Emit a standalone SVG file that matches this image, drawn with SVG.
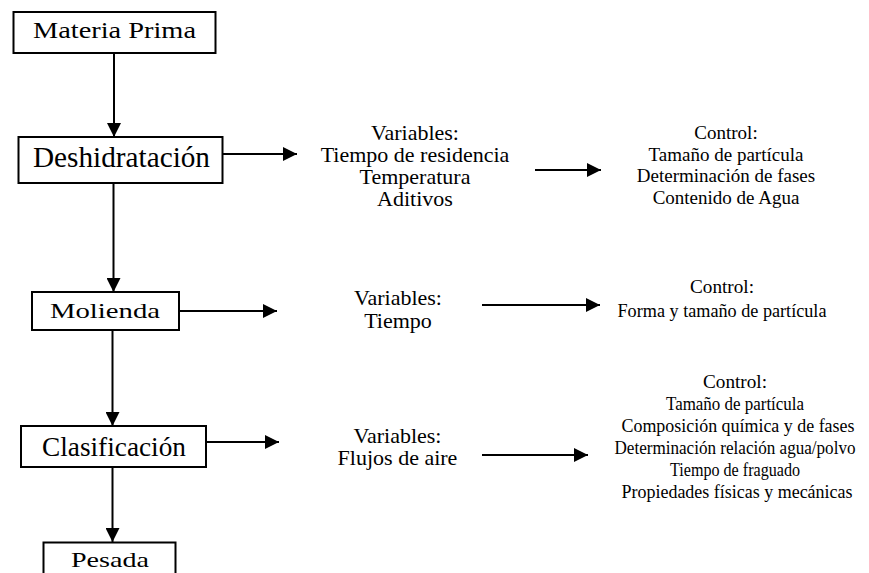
<svg xmlns="http://www.w3.org/2000/svg" width="869" height="573" viewBox="0 0 869 573">
  <style>
    .box { fill: #ffffff; stroke: #000000; stroke-width: 2; }
    .lbl { font-family: "Liberation Serif", "Times New Roman", serif; fill: #000000; text-anchor: middle; }
    .var { font-family: "Liberation Serif", "Times New Roman", serif; fill: #000000; text-anchor: middle; font-size: 22px; }
    .ctl { font-family: "Liberation Serif", "Times New Roman", serif; fill: #000000; text-anchor: middle; font-size: 19px; }
    .con { stroke: #000000; stroke-width: 2; fill: none; marker-end: url(#arrow); }
  </style>
  <defs>
    <marker id="arrow" markerUnits="userSpaceOnUse" markerWidth="14" markerHeight="14" refX="14" refY="7" orient="auto">
      <path d="M0,0 L14,7 L0,14 Z" fill="#000000"/>
    </marker>
  </defs>
  <rect width="869" height="573" fill="#ffffff"/>

  <g id="connectors">
    <line class="con" x1="114" y1="53" x2="114" y2="137"/>
    <line class="con" x1="113.5" y1="183" x2="113.5" y2="292"/>
    <line class="con" x1="112.5" y1="330" x2="112.5" y2="426"/>
    <line class="con" x1="112.5" y1="467" x2="112.5" y2="542"/>
    <line class="con" x1="223" y1="154" x2="297" y2="154"/>
    <line class="con" x1="179" y1="311" x2="277" y2="311"/>
    <line class="con" x1="206" y1="442" x2="279" y2="442"/>
    <line class="con" x1="535" y1="170" x2="601" y2="170"/>
    <line class="con" x1="482" y1="305" x2="600" y2="305"/>
    <line class="con" x1="482" y1="455" x2="588" y2="455"/>
  </g>

  <g id="materia-prima">
    <rect class="box" x="13.5" y="12" width="202" height="41"/>
    <text class="lbl" x="114.5" y="38" font-size="23" textLength="163" lengthAdjust="spacingAndGlyphs">Materia Prima</text>
  </g>
  <g id="deshidratacion">
    <rect class="box" x="18.5" y="137" width="204" height="46"/>
    <text class="lbl" x="121.5" y="167" font-size="29.5" textLength="177" lengthAdjust="spacingAndGlyphs">Deshidratación</text>
  </g>
  <g id="molienda">
    <rect class="box" x="32" y="292" width="147" height="38"/>
    <text class="lbl" x="105" y="318" font-size="22" textLength="110" lengthAdjust="spacingAndGlyphs">Molienda</text>
  </g>
  <g id="clasificacion">
    <rect class="box" x="21" y="426" width="185" height="41"/>
    <text class="lbl" x="114" y="456" font-size="27.5" textLength="144" lengthAdjust="spacingAndGlyphs">Clasificación</text>
  </g>
  <g id="pesada">
    <rect class="box" x="43.5" y="542.5" width="132" height="40"/>
    <text class="lbl" x="110" y="567" font-size="22" textLength="78" lengthAdjust="spacingAndGlyphs">Pesada</text>
  </g>

  <g id="variables-1">
    <text class="var" x="415" y="140">Variables:</text>
    <text class="var" x="415" y="162">Tiempo de residencia</text>
    <text class="var" x="415" y="184">Temperatura</text>
    <text class="var" x="415" y="206">Aditivos</text>
  </g>
  <g id="control-1">
    <text class="ctl" x="726" y="139" font-size="21">Control:</text>
    <text class="ctl" x="726" y="161" font-size="21">Tamaño de partícula</text>
    <text class="ctl" x="726" y="182" font-size="21">Determinación de fases</text>
    <text class="ctl" x="726" y="204" font-size="21">Contenido de Agua</text>
  </g>
  <g id="variables-2">
    <text class="var" x="398" y="305" font-size="23">Variables:</text>
    <text class="var" x="398" y="328" font-size="23">Tiempo</text>
  </g>
  <g id="control-2">
    <text class="ctl" x="722" y="293" textLength="64" lengthAdjust="spacingAndGlyphs">Control:</text>
    <text class="ctl" x="722" y="317" textLength="209" lengthAdjust="spacingAndGlyphs">Forma y tamaño de partícula</text>
  </g>
  <g id="variables-3">
    <text class="var" x="397.5" y="443">Variables:</text>
    <text class="var" x="397.5" y="465">Flujos de aire</text>
  </g>
  <g id="control-3">
    <text class="ctl" x="735" y="388" textLength="64" lengthAdjust="spacingAndGlyphs">Control:</text>
    <text class="ctl" x="735" y="410" textLength="138" lengthAdjust="spacingAndGlyphs">Tamaño de partícula</text>
    <text class="ctl" x="738" y="432" textLength="233" lengthAdjust="spacingAndGlyphs">Composición química y de fases</text>
    <text class="ctl" x="735" y="454" textLength="241" lengthAdjust="spacingAndGlyphs">Determinación relación agua/polvo</text>
    <text class="ctl" x="735" y="476" textLength="130" lengthAdjust="spacingAndGlyphs">Tiempo de fraguado</text>
    <text class="ctl" x="737" y="498" textLength="231" lengthAdjust="spacingAndGlyphs">Propiedades físicas y mecánicas</text>
  </g>
</svg>
